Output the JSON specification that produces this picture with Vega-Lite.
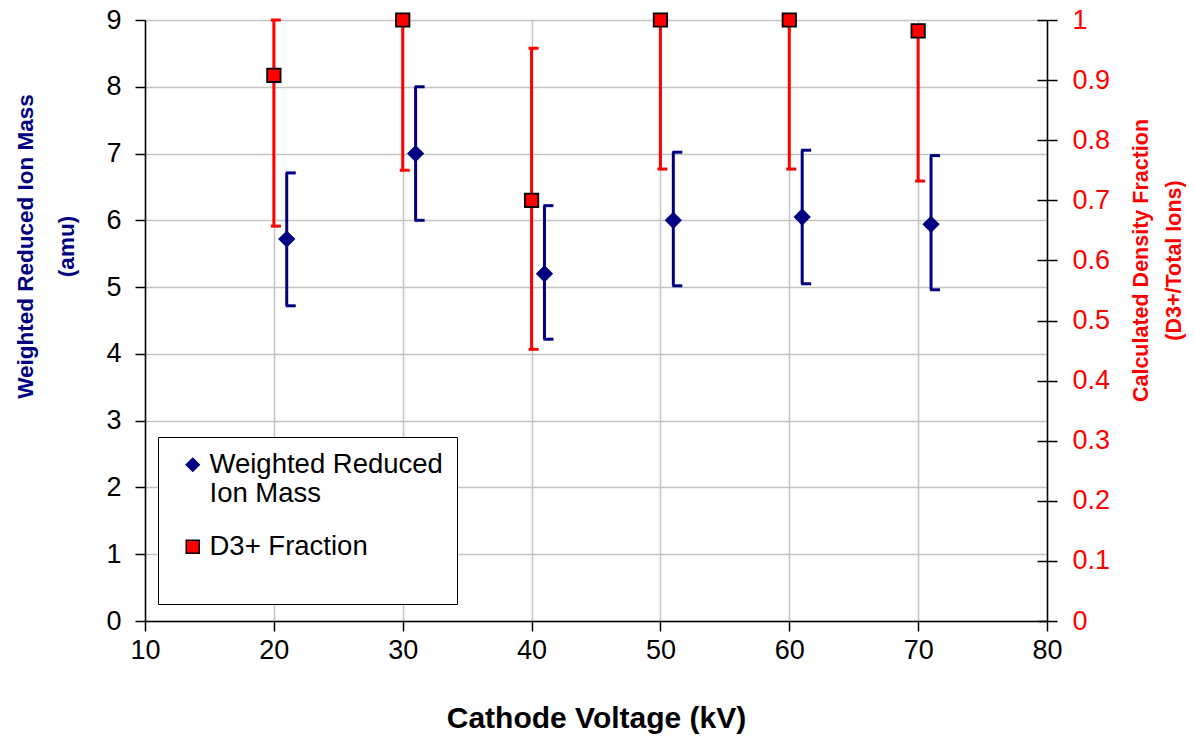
{
  "$schema": "https://vega.github.io/schema/vega-lite/v6.json",
  "width": 902,
  "height": 601,
  "autosize": {"type": "none"},
  "padding": {"left": 145, "top": 20, "right": 148, "bottom": 120},
  "background": "white",
  "config": {
    "font": "Liberation Sans",
    "view": {"stroke": null},
    "axis": {
      "labelFont": "Liberation Sans",
      "titleFont": "Liberation Sans",
      "labelFontSize": 27,
      "titleFontSize": 22.5,
      "titleFontWeight": "bold",
      "domainColor": "black",
      "domainWidth": 1.5,
      "tickColor": "black",
      "tickWidth": 1.5,
      "tickSize": 10,
      "gridColor": "#c4c4c4",
      "gridWidth": 1.5,
      "labelColor": "black",
      "labelFlush": false
    }
  },
  "datasets": {
    "mass": [
      {"x": 21, "val": 5.72, "lo": 4.72, "hi": 6.71, "series": "Weighted Reduced Ion Mass"},
      {"x": 31, "val": 7.0, "lo": 6.0, "hi": 8.0, "series": "Weighted Reduced Ion Mass"},
      {"x": 41, "val": 5.2, "lo": 4.22, "hi": 6.22, "series": "Weighted Reduced Ion Mass"},
      {"x": 51, "val": 6.0, "lo": 5.02, "hi": 7.02, "series": "Weighted Reduced Ion Mass"},
      {"x": 61, "val": 6.05, "lo": 5.05, "hi": 7.05, "series": "Weighted Reduced Ion Mass"},
      {"x": 71, "val": 5.94, "lo": 4.96, "hi": 6.97, "series": "Weighted Reduced Ion Mass"}
    ],
    "frac": [
      {"x": 20, "val": 0.908, "lo": 0.657, "hi": 1.0, "series": "D3+ Fraction"},
      {"x": 30, "val": 1.0, "lo": 0.75, "hi": 1.0, "series": "D3+ Fraction"},
      {"x": 40, "val": 0.70, "lo": 0.452, "hi": 0.953, "series": "D3+ Fraction"},
      {"x": 50, "val": 1.0, "lo": 0.752, "hi": 1.0, "series": "D3+ Fraction"},
      {"x": 60, "val": 1.0, "lo": 0.752, "hi": 1.0, "series": "D3+ Fraction"},
      {"x": 70, "val": 0.982, "lo": 0.732, "hi": 0.982, "series": "D3+ Fraction"}
    ]
  },
  "resolve": {"scale": {"y": "independent"}},
  "layer": [
    {
      "data": {"name": "mass"},
      "layer": [
        {
          "mark": {"type": "rule", "color": "#000080", "strokeWidth": 3},
          "encoding": {
            "x": {"field": "x", "type": "quantitative", "scale": {"domain": [10, 80], "nice": false},
              "axis": {"values": [10, 20, 30, 40, 50, 60, 70, 80], "title": "Cathode Voltage (kV)", "labelPadding": 6, "titlePadding": 40, "titleFontSize": 30, "titleColor": "black", "grid": true}},
            "y": {"field": "lo", "type": "quantitative", "scale": {"domain": [0, 9], "nice": false},
              "axis": {"values": [0, 1, 2, 3, 4, 5, 6, 7, 8, 9], "format": "d", "title": ["Weighted Reduced Ion Mass", "(amu)"], "titleColor": "#000080", "titleAngle": -90, "titleAlign": "center", "titleBaseline": "middle", "titleX": -120, "titleY": 226, "titleLineHeight": 41, "labelPadding": 14, "grid": true}},
            "y2": {"field": "hi"}
          }
        },
        {
          "mark": {"type": "rule", "color": "#000080", "strokeWidth": 3, "xOffset": -1, "x2Offset": 9},
          "encoding": {
            "x": {"field": "x", "type": "quantitative"},
            "x2": {"field": "x"},
            "y": {"field": "lo", "type": "quantitative"}
          }
        },
        {
          "mark": {"type": "rule", "color": "#000080", "strokeWidth": 3, "xOffset": -1, "x2Offset": 9},
          "encoding": {
            "x": {"field": "x", "type": "quantitative"},
            "x2": {"field": "x"},
            "y": {"field": "hi", "type": "quantitative"}
          }
        },
        {
          "mark": {"type": "point", "filled": true, "opacity": 1, "size": 230, "strokeWidth": 1.5},
          "encoding": {
            "x": {"field": "x", "type": "quantitative"},
            "y": {"field": "val", "type": "quantitative"},
            "color": {"field": "series", "type": "nominal", "scale": {"domain": ["Weighted Reduced Ion Mass", "D3+ Fraction"], "range": ["#000080", "#ff0000"]},
              "legend": {"title": null, "orient": "none", "legendX": 13, "legendY": 417, "strokeColor": "black", "fillColor": "white", "padding": 14, "symbolOffset": 7, "labelFontSize": 27.5, "labelFont": "Liberation Sans", "labelColor": "black", "labelLimit": 400, "symbolSize": 170, "rowPadding": 24, "labelOffset": 3, "labelBaseline": "middle", "labelLineHeight": 36,
                "labelExpr": "datum.label == 'Weighted Reduced Ion Mass' ? ['Weighted Reduced', 'Ion Mass'] : [datum.label, '']"}},
            "shape": {"field": "series", "type": "nominal", "scale": {"domain": ["Weighted Reduced Ion Mass", "D3+ Fraction"], "range": ["diamond", "square"]}},
            "stroke": {"field": "series", "type": "nominal", "scale": {"domain": ["Weighted Reduced Ion Mass", "D3+ Fraction"], "range": ["#000080", "black"]}}
          }
        }
      ]
    },
    {
      "data": {"name": "frac"},
      "layer": [
        {
          "mark": {"type": "rule", "color": "#ff0000", "strokeWidth": 3},
          "encoding": {
            "x": {"field": "x", "type": "quantitative"},
            "y": {"field": "lo", "type": "quantitative", "scale": {"domain": [0, 1], "nice": false},
              "axis": {"orient": "right", "values": [0, 0.1, 0.2, 0.3, 0.4, 0.5, 0.6, 0.7, 0.8, 0.9, 1], "format": "~g", "labelColor": "#ff0000", "title": ["Calculated Density Fraction", "(D3+/Total Ions)"], "titleColor": "#ff0000", "titleFontSize": 21.5, "titleAngle": -90, "titleAlign": "center", "titleBaseline": "middle", "titleX": 94, "titleY": 240, "titleLineHeight": 33, "labelPadding": 15, "grid": false}},
            "y2": {"field": "hi"}
          }
        },
        {
          "mark": {"type": "rule", "color": "#ff0000", "strokeWidth": 3, "xOffset": -3, "x2Offset": 7},
          "encoding": {
            "x": {"field": "x", "type": "quantitative"},
            "x2": {"field": "x"},
            "y": {"field": "lo", "type": "quantitative"}
          }
        },
        {
          "mark": {"type": "rule", "color": "#ff0000", "strokeWidth": 3, "xOffset": -3, "x2Offset": 7},
          "encoding": {
            "x": {"field": "x", "type": "quantitative"},
            "x2": {"field": "x"},
            "y": {"field": "hi", "type": "quantitative"}
          }
        },
        {
          "mark": {"type": "point", "filled": true, "opacity": 1, "size": 180, "strokeWidth": 1.8},
          "encoding": {
            "x": {"field": "x", "type": "quantitative"},
            "y": {"field": "val", "type": "quantitative"},
            "color": {"field": "series", "type": "nominal"},
            "shape": {"field": "series", "type": "nominal"},
            "stroke": {"field": "series", "type": "nominal"}
          }
        }
      ]
    },
    {
      "data": {"name": "frac"},
      "mark": {"type": "point", "opacity": 0},
      "encoding": {
        "x": {"field": "x", "type": "quantitative"},
        "y": {"field": "val", "type": "quantitative", "scale": {"domain": [0, 1], "nice": false},
          "axis": {"orient": "right", "values": [0, 0.1, 0.2, 0.3, 0.4, 0.5, 0.6, 0.7, 0.8, 0.9, 1], "tickSize": -10, "labels": false, "domain": false, "grid": false, "title": null}}
      }
    }
  ]
}
